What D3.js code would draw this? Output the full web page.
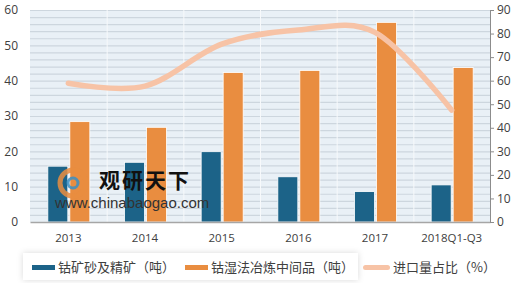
<!DOCTYPE html>
<html>
<head>
<meta charset="utf-8">
<script src="https://cdn.jsdelivr.net/npm/d3@7"></script>
<style>
  body { margin: 0; background: #fff; }
  svg { display: block; font-family: "Noto Sans CJK SC", "Liberation Sans", sans-serif; }
</style>
</head>
<body>
<div class="chart"></div>
<script>
const years = ['2013', '2014', '2015', '2016', '2017', '2018Q1-Q3']
const oreValues = [15.8, 16.9, 19.9, 12.8, 8.6, 10.5]
const midValues = [28.4, 26.8, 42.3, 42.9, 56.5, 43.7]
const shareValues = [58.9, 57.7, 75.5, 81.5, 80.5, 47.5]
const leftTicks = [0, 10, 20, 30, 40, 50, 60]
const rightTicks = [0, 10, 20, 30, 40, 50, 60, 70, 80, 90]
const seriesNames = ['钴矿砂及精矿（吨）', '钴湿法冶炼中间品（吨）', '进口量占比（%）']

const width = 520
const height = 283
const margin = {top: 10, right: 30, bottom: 61, left: 30}
const graphWidth = width - margin.left - margin.right
const graphHeight = height - margin.top - margin.bottom

const blue = '#1c6388'
const orange = '#e98d40'
const peach = '#f7c3a6'

const svg = d3.select('.chart')
  .append('svg')
  .attr('width', width)
  .attr('height', height)

const graph = svg.append('g')
  .attr('transform', `translate(${margin.left}, ${margin.top})`)

const xScale = d3.scaleBand()
  .domain(years)
  .range([0, graphWidth])

const yLeft = d3.scaleLinear().domain([0, 60]).range([graphHeight, 0])
const yRight = d3.scaleLinear().domain([0, 90]).range([graphHeight, 0])

// plot background
graph.append('rect')
  .attr('width', graphWidth)
  .attr('height', graphHeight)
  .attr('fill', '#e9f0f6')

// minor grid every 2
graph.selectAll('.grid')
  .data(d3.range(2, 61, 2))
  .enter()
  .append('line')
  .attr('x1', 0)
  .attr('x2', graphWidth)
  .attr('y1', d => yLeft(d) + 0.5)
  .attr('y2', d => yLeft(d) + 0.5)
  .attr('stroke', '#cdd6de')
  .attr('stroke-width', 1.2)

// vertical separators
graph.selectAll('.vgrid')
  .data(years.slice(1))
  .enter()
  .append('line')
  .attr('x1', d => xScale(d) + 0.5)
  .attr('x2', d => xScale(d) + 0.5)
  .attr('y1', 0)
  .attr('y2', graphHeight)
  .attr('stroke', '#f7f9fb')
  .attr('stroke-width', 1)

const barW = 20
const gap = 2

graph.selectAll('.ore')
  .data(oreValues)
  .enter()
  .append('rect')
  .attr('x', (d, i) => xScale(years[i]) + xScale.bandwidth() / 2 - barW - gap / 2 + 0.5)
  .attr('y', d => yLeft(d))
  .attr('width', barW)
  .attr('height', d => graphHeight - yLeft(d))
  .attr('fill', blue)
  .attr('stroke', '#ffffff')
  .attr('stroke-width', 0.8)

graph.selectAll('.mid')
  .data(midValues)
  .enter()
  .append('rect')
  .attr('x', (d, i) => xScale(years[i]) + xScale.bandwidth() / 2 + gap / 2 + 0.5)
  .attr('y', d => yLeft(d))
  .attr('width', barW)
  .attr('height', d => graphHeight - yLeft(d))
  .attr('fill', orange)
  .attr('stroke', '#ffffff')
  .attr('stroke-width', 0.8)

const line = d3.line()
  .x((d, i) => xScale(years[i]) + xScale.bandwidth() / 2)
  .y(d => yRight(d))
  .curve(d3.curveCardinal.tension(0))

graph.append('path')
  .datum(shareValues)
  .attr('d', line)
  .attr('fill', 'none')
  .attr('stroke', peach)
  .attr('stroke-width', 5.5)
  .attr('stroke-linecap', 'round')

// watermark
const wm = svg.append('g')
wm.append('circle').attr('cx', 73).attr('cy', 183).attr('r', 13)
  .attr('fill', 'none').attr('stroke', '#e98d40').attr('stroke-width', 5).attr('opacity', 0.85)
wm.append('circle').attr('cx', 73).attr('cy', 183).attr('r', 5)
  .attr('fill', 'none').attr('stroke', '#3a8fc4').attr('stroke-width', 3).attr('opacity', 0.85)
wm.append('text').attr('x', 99).attr('y', 188).text('观研天下')
  .attr('font-size', '21px').attr('font-weight', 'bold').attr('fill', '#111')
  .attr('letter-spacing', '2px')
wm.append('text').attr('x', 55).attr('y', 208).text('www.chinabaogao.com')
  .attr('font-family', 'Liberation Sans').attr('font-size', '15px').attr('fill', '#333')

// axes
const xAxisGroup = graph.append('g')
  .attr('transform', `translate(0, ${graphHeight})`)
xAxisGroup.call(d3.axisBottom(xScale).tickSize(0).tickPadding(12))
xAxisGroup.select('.domain').attr('stroke', '#a6a6a6').attr('stroke-width', 1.5)

const yAxisGroup = graph.append('g')
yAxisGroup.call(d3.axisLeft(yLeft).tickValues(leftTicks).tickSize(0).tickPadding(12))
yAxisGroup.select('.domain').remove()

const yAxisRight = graph.append('g')
  .attr('transform', `translate(${graphWidth}, 0)`)
yAxisRight.call(d3.axisRight(yRight).tickValues(rightTicks).tickSize(4).tickPadding(3).tickSizeOuter(0))
yAxisRight.select('.domain').attr('stroke', '#8c8c8c')
yAxisRight.selectAll('line').attr('stroke', '#8c8c8c')

graph.selectAll('.tick text')
  .attr('fill', '#404040')
  .attr('font-family', 'Open Sans, Liberation Sans, sans-serif')
  .attr('font-size', '12px')
xAxisGroup.selectAll('text').attr('font-size', '11.5px')

// legend
const legend = svg.append('g').attr('transform', 'translate(23, 253)')
legend.append('rect')
  .attr('width', 335).attr('height', 27)
  .attr('fill', '#ffffff')
  .style('filter', 'drop-shadow(0 0 3px rgba(0,0,0,0.15))')

const legendItems = [
  {name: seriesNames[0], color: blue, x: 9, w: 23, h: 5},
  {name: seriesNames[1], color: orange, x: 162, w: 23, h: 5},
  {name: seriesNames[2], color: peach, x: 340, w: 27, h: 5}
]

legend.selectAll('.sw')
  .data(legendItems)
  .enter()
  .append('rect')
  .attr('x', d => d.x)
  .attr('y', 12)
  .attr('width', d => d.w)
  .attr('height', d => d.h)
  .attr('rx', (d, i) => i === 2 ? 2.5 : 0)
  .attr('fill', d => d.color)

legend.selectAll('.lt')
  .data(legendItems)
  .enter()
  .append('text')
  .attr('x', d => d.x + d.w + 3)
  .attr('y', 19)
  .text(d => d.name)
  .attr('fill', '#404040')
  .attr('font-size', '13px')
</script>
</body>
</html>
